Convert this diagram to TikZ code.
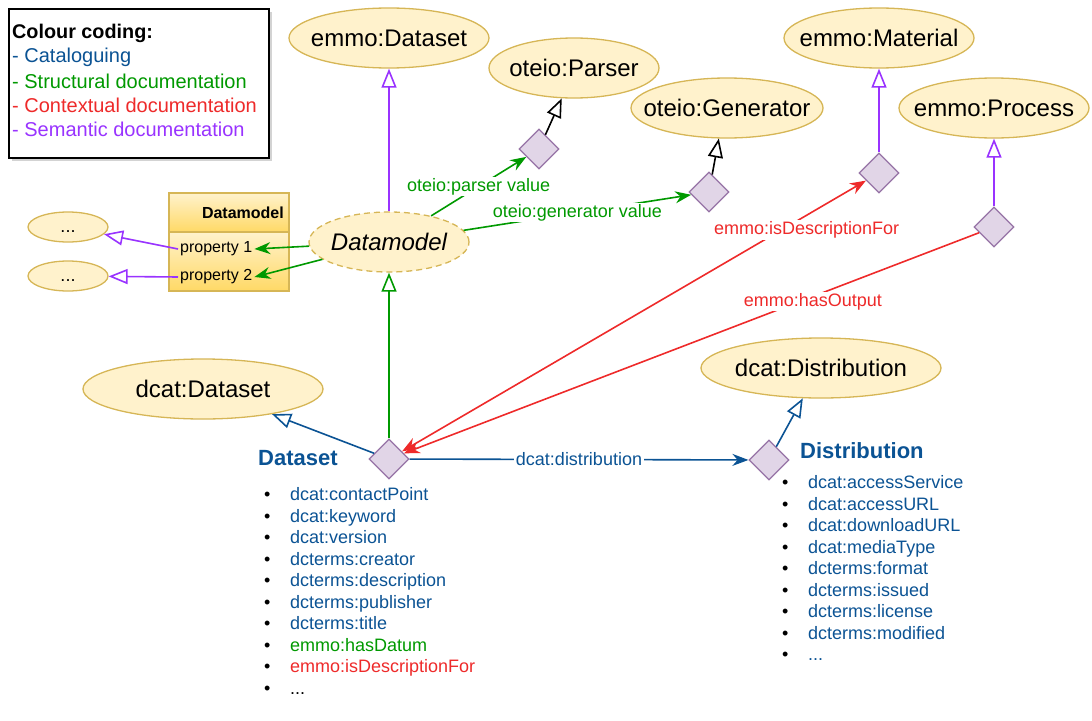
\documentclass[tikz,border=0pt]{standalone}
\usepackage{fontspec}
\setmainfont{Liberation Sans}
\usetikzlibrary{shapes.geometric,arrows.meta,shadows}
\definecolor{cblue}{HTML}{0B5394}
\definecolor{cgreen}{HTML}{009900}
\definecolor{cred}{HTML}{EE2A2A}
\definecolor{cpurple}{HTML}{9933FF}
\definecolor{efill}{HTML}{FFF2CC}
\definecolor{edraw}{HTML}{D6B656}
\definecolor{dfill}{HTML}{E1D5E7}
\definecolor{ddraw}{HTML}{9673A6}
\definecolor{tdark}{HTML}{FFD966}
\newcommand{\mydots}{...}
\tikzset{
  cls/.style={ellipse, draw=edraw, fill=efill, line width=1.3pt, inner sep=0pt,
    label={[font=\fontsize{24}{28}\selectfont]center:#1}},
  smallcls/.style={ellipse, draw=edraw, fill=efill, line width=1.3pt, inner sep=0pt,
    minimum width=80pt, minimum height=30pt,
    label={[font=\fontsize{18}{20}\selectfont, yshift=-5pt]center:#1}},
  rel/.style={diamond, draw=ddraw, fill=dfill, line width=1.3pt,
    minimum width=40pt, minimum height=40pt, inner sep=0pt},
  tbl/.style={rectangle, draw=edraw, line width=1.3pt, top color=efill, bottom color=tdark,
    minimum width=120pt, inner sep=0pt},
  conn/.style={line width=1.6pt},
  isa/.style={-{Triangle[open,fill=white,length=19pt 0 0,width=15pt 0 0]}},
  arr/.style={-{Stealth[length=16pt 0 0,width=12pt 0 0]}},
  arrboth/.style={{Stealth[length=16pt 0 0,width=12pt 0 0]}-{Stealth[length=16pt 0 0,width=12pt 0 0]}},
  lbl/.style={fill=white, inner sep=1.5pt, font=\fontsize{18}{20}\selectfont},
  txt/.style={inner sep=0pt, anchor=west},
  listtxt/.style={inner sep=0pt, anchor=west, font=\fontsize{18}{20}\selectfont,
    text height=13pt, text depth=4pt},
  legtxt/.style={inner sep=0pt, anchor=west, font=\fontsize{20}{22}\selectfont}
}
\begin{document}
\begin{tikzpicture}[x=1pt,y=-1pt]
\useasboundingbox (0,0) rectangle (1092,720);

% legend
\node[draw, line width=1.6pt, fill=white, minimum width=260pt, minimum height=149pt,
  inner sep=0pt, drop shadow={shadow xshift=3pt, shadow yshift=-3pt, opacity=0.35}]
  (legend) at (139,83.5) {};
\node[txt, font=\bfseries\fontsize{19.8}{22}\selectfont] (leg0) at (12,33) {Colour coding:};
\node[legtxt, text=cblue] (leg1) at (12,57) {- Cataloguing};
\node[legtxt, text=cgreen] (leg2) at (12,81) {- Structural documentation};
\node[legtxt, text=cred] (leg3) at (12,105) {- Contextual documentation};
\node[legtxt, text=cpurple] (leg4) at (12,129) {- Semantic documentation};

% classes
\node[cls={emmo:Dataset}, minimum width=200pt, minimum height=60pt] (emmods) at (389,38) {};
\node[cls={oteio:Parser}, minimum width=170pt, minimum height=60pt] (parser) at (574,68) {};
\node[cls={oteio:Generator}, minimum width=192pt, minimum height=60pt] (gen) at (727,108) {};
\node[cls={emmo:Material}, minimum width=190pt, minimum height=60pt] (mat) at (879,38) {};
\node[cls={emmo:Process}, minimum width=190pt, minimum height=60pt] (proc) at (994,108) {};
\node[cls={\itshape Datamodel}, dash pattern=on 6pt off 4pt, minimum width=160pt, minimum height=60pt] (dm) at (389,242) {};
\node[cls={dcat:Dataset}, minimum width=240pt, minimum height=60pt] (dcatds) at (203,389) {};
\node[cls={dcat:Distribution}, minimum width=240pt, minimum height=60pt] (dcatdist) at (821,368) {};
\node[smallcls={\mydots}] (e1) at (68,227) {};
\node[smallcls={\mydots}] (e2) at (68,276) {};

% relation diamonds
\node[rel] (ppd) at (539,149) {};
\node[rel] (pgd) at (709,192) {};
\node[rel] (matd) at (879,173) {};
\node[rel] (procd) at (994,227) {};
\node[rel] (dsd) at (389,459) {};
\node[rel] (distd) at (769,460) {};

% datamodel table
\node[tbl, minimum height=39pt] (dmh) at (229,212.5) {};
\node[tbl, minimum height=59pt] (dmb) at (229,261.5) {};
\node[anchor=east, inner sep=0pt, font=\bfseries\fontsize{16}{18}\selectfont] (dmt) at (284,213) {Datamodel};
\node[anchor=west, inner sep=2pt, font=\fontsize{16}{18}\selectfont] (p1) at (178,249) {property 1};
\node[anchor=west, inner sep=2pt, font=\fontsize{16}{18}\selectfont] (p2) at (178,277) {property 2};

% green connectors
\draw[conn, cgreen, isa] (dsd) -- (dm);
\draw[conn, cgreen, arr] (dm) -- node[lbl] (lparser) {oteio:parser value} (ppd);
\draw[conn, cgreen, arr] (dm) -- node[lbl] (lgen) {oteio:generator value} (pgd);
\draw[conn, cgreen, arr] (dm) -- (p1.east);
\draw[conn, cgreen, arr] (dm) -- (p2.east);

% purple connectors
\draw[conn, cpurple, isa] (dm) -- (emmods);
\draw[conn, cpurple, isa] (matd) -- (mat);
\draw[conn, cpurple, isa] (procd) -- (proc);
\draw[conn, cpurple, isa] (p1.west) -- (e1);
\draw[conn, cpurple, isa] (p2.west) -- (e2);

% black connectors
\draw[conn, black, isa] (ppd) -- (parser.-112);
\draw[conn, black, isa] (pgd) -- (gen.-105);

% blue connectors
\draw[conn, cblue, isa] (dsd) -- (dcatds.-20);
\draw[conn, cblue, arr] (dsd) -- node[lbl] (ldist) {dcat:distribution} (distd);
\draw[conn, cblue, isa] (distd) -- (dcatdist.-121);

% red connectors
\draw[conn, cred, arrboth] (dsd) -- node[lbl, pos=0.872, yshift=-15pt] (ldesc) {emmo:isDescriptionFor} (matd);
\draw[conn, cred, arr] (procd) -- node[lbl, pos=0.289, yshift=-5pt] (lout) {emmo:hasOutput} (dsd);

% headings
\node[txt, text=cblue, font=\bfseries\fontsize{22}{26}\selectfont] (hds) at (258,458) {Dataset};
\node[txt, text=cblue, font=\bfseries\fontsize{22}{26}\selectfont] (hdist) at (800,451) {Distribution};

% dataset list
\foreach \t/\c [count=\i from 0] in {dcat:contactPoint/cblue, dcat:keyword/cblue, dcat:version/cblue,
  dcterms:creator/cblue, dcterms:description/cblue, dcterms:publisher/cblue, dcterms:title/cblue,
  emmo:hasDatum/cgreen, emmo:isDescriptionFor/cred, \mydots/black}{
  \node[listtxt] (dsb\i) at (264,{496+21.55*\i}) {•};
  \node[listtxt, text=\c] (dsi\i) at (290,{496+21.55*\i}) {\t};
}
% distribution list
\foreach \t [count=\i from 0] in {dcat:accessService, dcat:accessURL, dcat:downloadURL, dcat:mediaType,
  dcterms:format, dcterms:issued, dcterms:license, dcterms:modified, \mydots}{
  \node[listtxt] (dib\i) at (782,{484+21.5*\i}) {•};
  \node[listtxt, text=cblue] (dii\i) at (808,{484+21.5*\i}) {\t};
}
\end{tikzpicture}
\end{document}
